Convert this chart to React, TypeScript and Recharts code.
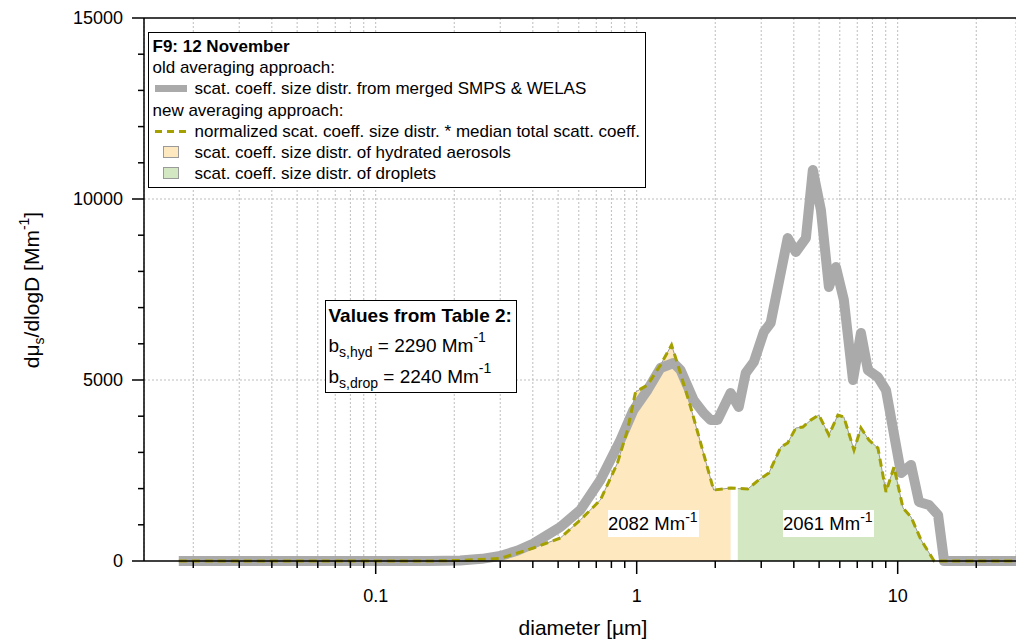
import {
  Area,
  CartesianGrid,
  ComposedChart,
  Line,
  ReferenceLine,
  XAxis,
  YAxis,
} from 'recharts';

// old averaging approach (merged SMPS & WELAS)
const oldDiameter = [
  0.0176, 0.16, 0.211, 0.255, 0.3, 0.35, 0.402, 0.51, 0.608, 0.726, 0.867, 0.972,
  1.1, 1.234, 1.384, 1.472, 1.652, 1.805, 1.92, 2.04, 2.29, 2.46, 2.617, 2.81,
  3.07, 3.26, 3.79, 4.07, 4.45, 4.73, 5.08, 5.45, 5.8, 6.22, 6.74, 7.23, 7.69,
  8.4, 9.02, 10.3, 11.25, 12.07, 13.19, 14.28, 15.06, 28.4,
];
const oldValues = [
  0, 0, 15, 60, 140, 290, 480, 939, 1409, 2237, 3342, 4171, 4723, 5331, 5469,
  5275, 4447, 4088, 3894, 3894, 4640, 4253, 5193, 5496, 6325, 6574, 8921, 8535,
  8921, 10800, 9695, 7568, 8120, 7209, 4999, 6297, 5275, 5082, 4723, 2431, 2652,
  1630, 1547, 1271, 0, 0,
];

// new averaging approach (normalized * median total scatt. coeff.)
const newDiameter = [
  0.0176, 0.16, 0.211, 0.3, 0.402, 0.51, 0.608, 0.726, 0.844, 0.922, 0.99, 1.1,
  1.234, 1.36, 1.447, 1.609, 1.758, 1.972, 2.29, 2.663, 2.935, 3.21, 3.565, 3.79,
  4.07, 4.33, 4.65, 4.99, 5.45, 5.9, 6.22, 6.8, 7.23, 7.76, 8.4, 9.02, 9.68,
  10.48, 11.25, 12.29, 13.79, 28.4,
];
const newValues = [
  0, 0, 15, 70, 360, 635, 1133, 1685, 2707, 3618, 4668, 4861, 5414, 5966, 5358,
  4253, 3259, 1961, 2016, 1989, 2237, 2430, 3149, 3259, 3674, 3701, 3894, 4032,
  3480, 4032, 3977, 3066, 3674, 3342, 3121, 1906, 2596, 1464, 1215, 580, 0, 0,
];

// hydrated aerosols
const hydDiameter = [
  0.3, 0.402, 0.51, 0.608, 0.726, 0.844, 0.922, 0.99, 1.1, 1.234, 1.36, 1.447,
  1.609, 1.758, 1.972, 2.29,
];
const hydValues = [
  70, 360, 635, 1133, 1685, 2707, 3618, 4668, 4861, 5414, 5966, 5358, 4253, 3259,
  1961, 2016,
];

// droplets
const dropDiameter = [
  2.44, 2.663, 2.935, 3.21, 3.565, 3.79, 4.07, 4.33, 4.65, 4.99, 5.45, 5.9, 6.22,
  6.8, 7.23, 7.76, 8.4, 9.02, 9.68, 10.48, 11.25, 12.29, 13.79,
];
const dropValues = [
  2000, 1989, 2237, 2430, 3149, 3259, 3674, 3701, 3894, 4032, 3480, 4032, 3977,
  3066, 3674, 3342, 3121, 1906, 2596, 1464, 1215, 580, 0,
];

const xTicks = [
  0.02, 0.03, 0.04, 0.05, 0.06, 0.07, 0.08, 0.09, 0.1, 0.2, 0.3, 0.4, 0.5, 0.6,
  0.7, 0.8, 0.9, 1, 2, 3, 4, 5, 6, 7, 8, 9, 10, 20,
];
const xLabels = [0.1, 1, 10];
const yTicks = [
  0, 1000, 2000, 3000, 4000, 5000, 6000, 7000, 8000, 9000, 10000, 11000, 12000,
  13000, 14000, 15000,
];
const yLabels = [0, 5000, 10000, 15000];
const yGrid = [5000, 10000];

const toPoints = (xs: number[], ys: number[]) =>
  xs.map((d, i) => ({ d, v: ys[i] }));

const FONT = '"Liberation Sans", Arial, sans-serif';
const OLIVE = '#a3a000';

function XTick({ x, y, payload }: any) {
  const major = xLabels.includes(payload.value);
  return (
    <g>
      <line x1={x} x2={x} y1={y} y2={y + (major ? 13 : 7)} stroke="#000" strokeWidth={1.5} />
      {major && (
        <text x={x} y={y + 41} textAnchor="middle" fontSize={18} fill="#000" fontFamily={FONT}>
          {String(payload.value)}
        </text>
      )}
    </g>
  );
}

function YTick({ x, y, payload }: any) {
  const major = yLabels.includes(payload.value);
  return (
    <g>
      <line x1={x - (major ? 12 : 6)} x2={x} y1={y} y2={y} stroke="#000" strokeWidth={1.5} />
      {major && (
        <text x={x - 21} y={y} dy="0.35em" textAnchor="end" fontSize={18} fill="#000" fontFamily={FONT}>
          {String(payload.value)}
        </text>
      )}
    </g>
  );
}

const sup = (t: string, top = -9, size = 13) => (
  <span style={{ fontSize: size, position: 'relative', top }}>{t}</span>
);
const sub = (t: string) => (
  <span style={{ fontSize: 14, position: 'relative', top: 5 }}>{t}</span>
);

const labelBox = {
  position: 'absolute' as const,
  top: 510,
  width: 91,
  height: 27,
  background: '#fff',
  fontSize: 18.5,
  lineHeight: '27px',
  boxSizing: 'border-box' as const,
  whiteSpace: 'nowrap' as const,
};

export default function App() {
  return (
    <div
      style={{
        position: 'absolute',
        left: 0,
        top: 0,
        width: 1016,
        height: 644,
        background: '#fff',
        fontFamily: FONT,
        color: '#000',
        overflow: 'hidden',
      }}
    >
      <ComposedChart width={1016} height={644} margin={{ top: 18, right: 0, bottom: 0, left: 0 }}>
        <XAxis
          dataKey="d"
          type="number"
          scale="log"
          domain={[0.01295, 28.4]}
          ticks={xTicks}
          interval={0}
          height={83}
          tickSize={0}
          tickMargin={0}
          tickLine={false}
          tick={<XTick />}
          axisLine={{ stroke: '#000', strokeWidth: 1.5 }}
        />
        <YAxis
          type="number"
          domain={[0, 15000]}
          ticks={yTicks}
          interval={0}
          width={144}
          tickSize={0}
          tickMargin={0}
          tickLine={false}
          tick={<YTick />}
          axisLine={{ stroke: '#000', strokeWidth: 1.5 }}
        />
        <CartesianGrid horizontalValues={yGrid} stroke="#bdbdbd" strokeDasharray="2 2" />
        <Area
          data={toPoints(hydDiameter, hydValues)}
          dataKey="v"
          type="linear"
          fill="#fde8c0"
          fillOpacity={1}
          stroke="#9a9a9a"
          strokeWidth={1}
          dot={false}
          activeDot={false}
          isAnimationActive={false}
        />
        <Area
          data={toPoints(dropDiameter, dropValues)}
          dataKey="v"
          type="linear"
          fill="#d3e7c3"
          fillOpacity={1}
          stroke="#9a9a9a"
          strokeWidth={1}
          dot={false}
          activeDot={false}
          isAnimationActive={false}
        />
        <Line
          data={toPoints(oldDiameter, oldValues)}
          dataKey="v"
          type="linear"
          stroke="#aaaaaa"
          strokeWidth={10}
          strokeLinejoin="round"
          dot={false}
          activeDot={false}
          isAnimationActive={false}
        />
        <Line
          data={toPoints(newDiameter, newValues)}
          dataKey="v"
          type="linear"
          stroke={OLIVE}
          strokeWidth={3}
          strokeDasharray="8 5"
          dot={false}
          activeDot={false}
          isAnimationActive={false}
        />
        <ReferenceLine y={15000} stroke="#000" strokeWidth={1.5} />
      </ComposedChart>

      {/* legend */}
      <div
        style={{
          position: 'absolute',
          left: 148,
          top: 32,
          width: 498,
          height: 156,
          boxSizing: 'border-box',
          border: '1.5px solid #000',
          background: '#fff',
          fontSize: 17,
          lineHeight: '21.2px',
          paddingTop: 3,
          whiteSpace: 'nowrap',
        }}
      >
        <div style={{ paddingLeft: 3.5, fontWeight: 'bold' }}>F9: 12 November</div>
        <div style={{ paddingLeft: 3.5 }}>old averaging approach:</div>
        <div style={{ paddingLeft: 45.5, position: 'relative' }}>
          <span style={{ position: 'absolute', left: 5.5, top: 7, width: 32, height: 7, background: '#aaaaaa' }} />
          scat. coeff. size distr. from merged SMPS &amp; WELAS
        </div>
        <div style={{ paddingLeft: 3.5 }}>new averaging approach:</div>
        <div style={{ paddingLeft: 45.5, position: 'relative' }}>
          <svg style={{ position: 'absolute', left: 5.5, top: 8 }} width={32} height={5}>
            <line x1={0} x2={32} y1={2.5} y2={2.5} stroke={OLIVE} strokeWidth={3} strokeDasharray="7 5" />
          </svg>
          normalized scat. coeff. size distr. * median total scatt. coeff.
        </div>
        <div style={{ paddingLeft: 45.5, position: 'relative' }}>
          <span
            style={{
              position: 'absolute',
              left: 13.5,
              top: 4,
              width: 16,
              height: 12,
              boxSizing: 'border-box',
              border: '1.5px solid #9a9a9a',
              background: '#fde8c0',
            }}
          />
          scat. coeff. size distr. of hydrated aerosols
        </div>
        <div style={{ paddingLeft: 45.5, position: 'relative' }}>
          <span
            style={{
              position: 'absolute',
              left: 13.5,
              top: 4,
              width: 16,
              height: 12,
              boxSizing: 'border-box',
              border: '1.5px solid #9a9a9a',
              background: '#d3e7c3',
            }}
          />
          scat. coeff. size distr. of droplets
        </div>
      </div>

      {/* values from table 2 */}
      <div
        style={{
          position: 'absolute',
          left: 325,
          top: 300,
          width: 192,
          height: 93,
          boxSizing: 'border-box',
          border: '1.5px solid #000',
          background: '#fff',
          fontSize: 19,
          lineHeight: '29.5px',
          paddingLeft: 2.5,
          whiteSpace: 'nowrap',
        }}
      >
        <div style={{ fontWeight: 'bold' }}>Values from Table 2:</div>
        <div>
          b{sub('s,hyd')} = 2290 Mm{sup('-1', -10, 14)}
        </div>
        <div>
          b{sub('s,drop')} = 2240 Mm{sup('-1', -10, 14)}
        </div>
      </div>

      {/* integrated values */}
      <div style={{ ...labelBox, left: 608 }}>2082 Mm{sup('-1', -8, 14)}</div>
      <div style={{ ...labelBox, left: 783 }}>2061 Mm{sup('-1', -8, 14)}</div>

      {/* axis titles */}
      <div
        style={{
          position: 'absolute',
          left: 583,
          top: 628,
          transform: 'translate(-50%, -50%)',
          fontSize: 21,
          whiteSpace: 'nowrap',
        }}
      >
        diameter [µm]
      </div>
      <div
        style={{
          position: 'absolute',
          left: 32,
          top: 290,
          transform: 'translate(-50%, -50%) rotate(-90deg)',
          fontSize: 21,
          whiteSpace: 'nowrap',
        }}
      >
        dμ<span style={{ fontSize: 14, position: 'relative', top: 5 }}>s</span>/dlogD [Mm
        <span style={{ fontSize: 14, position: 'relative', top: -10 }}>-1</span>]
      </div>
    </div>
  );
}
